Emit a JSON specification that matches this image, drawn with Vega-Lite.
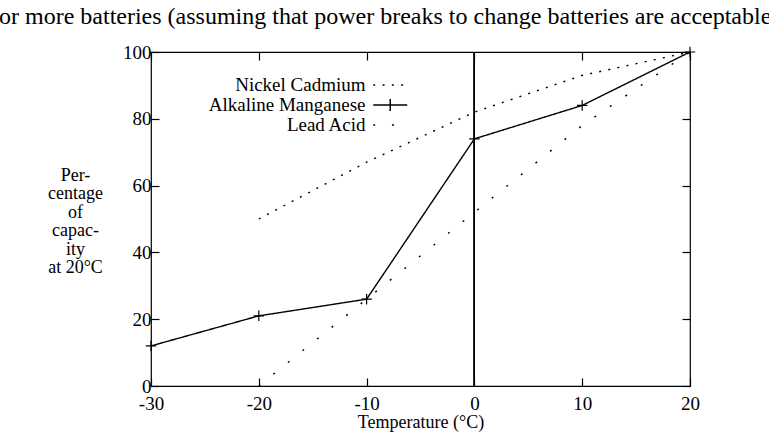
{
  "$schema": "https://vega.github.io/schema/vega-lite/v6.json",
  "width": 539,
  "height": 334,
  "autosize": {"type": "none"},
  "padding": {"left": 151, "top": 52, "right": 79, "bottom": 46},
  "background": "white",
  "title": {
    "text": "or more batteries (assuming that power breaks to change batteries are acceptable",
    "anchor": "start",
    "frame": "group",
    "dx": -152,
    "dy": 21,
    "offset": 16,
    "baseline": "alphabetic",
    "font": "Liberation Serif",
    "fontSize": 24,
    "fontWeight": "normal",
    "color": "black"
  },
  "config": {
    "view": {"stroke": "black", "strokeWidth": 1.2},
    "font": "Liberation Serif",
    "axis": {
      "grid": false,
      "domain": false,
      "tickColor": "black",
      "tickSize": -8,
      "tickWidth": 1.2,
      "labelFont": "Liberation Serif",
      "labelFontSize": 19,
      "labelColor": "black",
      "labelExpr": "toString(datum.value)",
      "titleFont": "Liberation Serif",
      "titleFontSize": 19,
      "titleFontWeight": "normal",
      "titleColor": "black"
    },
    "legend": {
      "orient": "none",
      "legendX": 229.75,
      "legendY": 23.5,
      "padding": 0,
      "symbolType": "M-2,0H2",
      "symbolSize": 289,
      "symbolStrokeWidth": 1.5,
      "symbolStrokeColor": "black",
      "labelAlign": "right",
      "labelOffset": -34.25,
      "labelLimit": 0,
      "labelFont": "Liberation Serif",
      "labelFontSize": 19,
      "labelColor": "black",
      "rowPadding": 0
    }
  },
  "data": {
    "values": [
      {"series": "Nickel Cadmium", "temp": -20, "pct": 50},
      {"series": "Nickel Cadmium", "temp": -10, "pct": 67},
      {"series": "Nickel Cadmium", "temp": 0, "pct": 82},
      {"series": "Nickel Cadmium", "temp": 10, "pct": 93},
      {"series": "Nickel Cadmium", "temp": 20, "pct": 100},
      {"series": "Alkaline Manganese", "temp": -30, "pct": 12},
      {"series": "Alkaline Manganese", "temp": -20, "pct": 21},
      {"series": "Alkaline Manganese", "temp": -10, "pct": 26},
      {"series": "Alkaline Manganese", "temp": 0, "pct": 74},
      {"series": "Alkaline Manganese", "temp": 10, "pct": 84},
      {"series": "Alkaline Manganese", "temp": 20, "pct": 100},
      {"series": "Lead Acid", "temp": -20, "pct": 0},
      {"series": "Lead Acid", "temp": -10, "pct": 26},
      {"series": "Lead Acid", "temp": 0, "pct": 52},
      {"series": "Lead Acid", "temp": 10, "pct": 78},
      {"series": "Lead Acid", "temp": 20, "pct": 100}
    ]
  },
  "layer": [
    {
      "mark": {"type": "line", "color": "black", "strokeWidth": 1.4, "strokeCap": "butt"},
      "encoding": {
        "x": {
          "field": "temp", "type": "quantitative",
          "scale": {"domain": [-30, 20], "nice": false, "zero": false},
          "axis": {"values": [-30, -20, -10, 0, 10, 20], "title": "Temperature (°C)", "titleFontSize": 18, "labelPadding": 16, "titlePadding": 0, "labelFlush": false}
        },
        "y": {
          "field": "pct", "type": "quantitative",
          "scale": {"domain": [0, 100], "nice": false},
          "axis": {
            "values": [0, 20, 40, 60, 80, 100],
            "title": ["Per-", "centage", "of", "capac-", "ity", "at 20°C"],
            "titleFontSize": 18,
            "titleAngle": 0, "titleAlign": "center", "titleBaseline": "middle",
            "titleX": -76, "titleY": 123, "titleLineHeight": 18.5,
            "labelPadding": 8, "labelFlush": false
          }
        },
        "strokeDash": {
          "field": "series", "type": "nominal",
          "scale": {"domain": ["Nickel Cadmium", "Alkaline Manganese", "Lead Acid"], "range": [[2, 7.3], [1, 0], [2, 16.7]]},
          "legend": {
            "title": null,
            "encode": {
              "symbols": {
                "update": {
                  "shape": {"signal": "datum.label === 'Alkaline Manganese' ? 'M-2,0H2M0,-0.7V0.7' : 'M-2,0H2'"},
                  "stroke": {"value": "black"}
                }
              }
            }
          }
        }
      }
    },
    {
      "transform": [{"filter": "datum.series === 'Alkaline Manganese'"}],
      "mark": {"type": "point", "shape": "M-1,0H1M0,-1V1", "filled": false, "color": "black", "size": 110, "strokeWidth": 1.2, "opacity": 1},
      "encoding": {
        "x": {"field": "temp", "type": "quantitative", "axis": {"orient": "top", "values": [-30, -20, -10, 0, 10, 20], "labels": false, "title": null}},
        "y": {"field": "pct", "type": "quantitative", "axis": {"orient": "right", "values": [0, 20, 40, 60, 80, 100], "labels": false, "title": null}}
      }
    },
    {
      "mark": {"type": "rule", "color": "black", "strokeWidth": 1},
      "encoding": {"x": {"datum": 0, "axis": null}}
    }
  ],
  "resolve": {"axis": {"x": "independent", "y": "independent"}}
}
